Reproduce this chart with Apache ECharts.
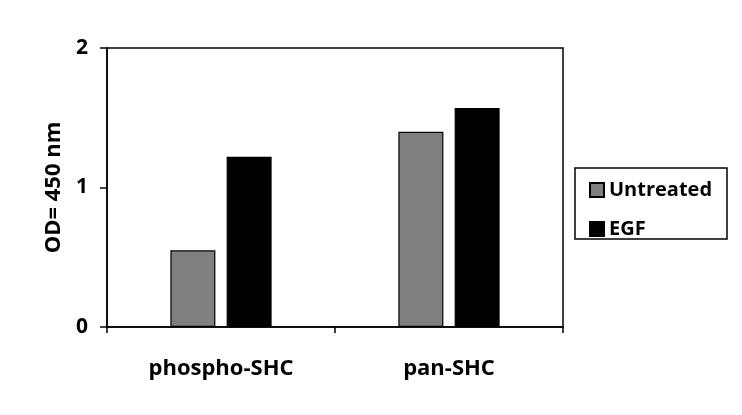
<!DOCTYPE html>
<html>
<head>
    <meta charset="utf-8">
    <title>ECharts</title>
    <script src="https://cdn.jsdelivr.net/npm/echarts@6/dist/echarts.min.js"></script>
</head>
<body style="margin:0;background:#fff;">
    <div id="main" style="width:742px;height:415px;"></div>
    <script type="text/javascript">
var categories = ['phospho-SHC', 'pan-SHC'];
var untreated = [0.55, 1.40];
var egf = [1.22, 1.57];
var yTicks = [0, 1, 2];

var myChart = echarts.init(document.getElementById('main'));
var font = 'Open Sans';

option = {
    backgroundColor: '#fff',
    animation: false,
    grid: {
        left: 107, right: 179, top: 48, bottom: 88,
        show: true, borderColor: '#000', borderWidth: 1.5, backgroundColor: 'transparent'
    },
    legend: {
        orient: 'vertical',
        left: 584, top: 175,
        itemWidth: 14, itemHeight: 14, itemGap: 19,
        icon: 'rect',
        textStyle: { fontFamily: font, fontWeight: 'bold', fontSize: 20, color: '#000' },
        data: ['Untreated', 'EGF']
    },
    graphic: [{
        type: 'rect',
        shape: { x: 575, y: 168, width: 152, height: 71 },
        style: { fill: 'none', stroke: '#000', lineWidth: 1.5 }
    }],
    xAxis: {
        type: 'category',
        data: categories,
        axisLine: { lineStyle: { color: '#000', width: 1.5 } },
        axisTick: { show: true, length: 6, lineStyle: { color: '#000', width: 1.5 } },
        axisLabel: { fontFamily: font, fontWeight: 'bold', fontSize: 22, color: '#000', margin: 31 }
    },
    yAxis: {
        type: 'value',
        min: yTicks[0], max: yTicks[yTicks.length - 1], interval: 1,
        name: 'OD= 450 nm',
        nameLocation: 'middle', nameRotate: 90, nameGap: 42,
        nameTextStyle: { fontFamily: font, fontWeight: 'bold', fontSize: 22, color: '#000' },
        splitLine: { show: false },
        axisLine: { show: true, lineStyle: { color: '#000', width: 1.5 } },
        axisTick: { show: true, length: 7, lineStyle: { color: '#000', width: 1.5 } },
        axisLabel: { fontFamily: font, fontWeight: 'bold', fontSize: 21, color: '#000', margin: 19 }
    },
    series: [{
        name: 'Untreated',
        type: 'bar',
        data: untreated,
        barWidth: 45,
        barGap: '25%',
        itemStyle: { color: '#808080', borderColor: '#000', borderWidth: 1.2 }
    }, {
        name: 'EGF',
        type: 'bar',
        data: egf,
        barWidth: 45,
        itemStyle: { color: '#000', borderColor: '#000', borderWidth: 1.2 }
    }]
};

myChart.setOption(option);
    </script>
</body>
</html>
